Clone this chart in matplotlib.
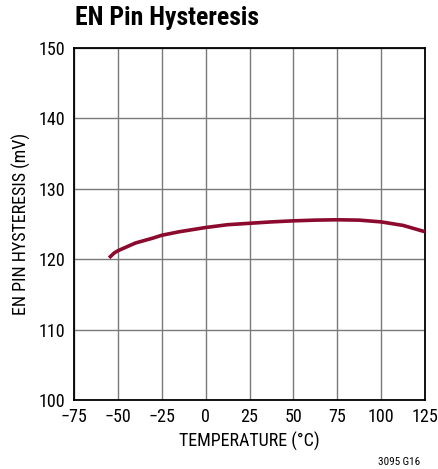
import matplotlib
matplotlib.use("Agg")
import matplotlib.pyplot as plt
from matplotlib import font_manager

# valores
temperatura = [-55, -52, -50, -40, -30, -25, -15, 0, 12.5, 25, 37.5, 50, 62.5, 75, 87.5, 100, 112.5, 125]
histerese = [120.2, 120.9, 121.2, 122.3, 123.0, 123.4, 123.9, 124.5, 124.9, 125.1, 125.3, 125.45, 125.55, 125.6, 125.55, 125.3, 124.8, 123.9]

xticks = [-75, -50, -25, 0, 25, 50, 75, 100, 125]
yticks = [100, 110, 120, 130, 140, 150]

# fonte condensada, parecida com Helvetica Condensed
nomes = {f.name for f in font_manager.fontManager.ttflist}
fonte = "DejaVu Sans"
for candidata in ["Roboto Condensed", "Archivo Narrow", "Liberation Sans Narrow", "Barlow Semi Condensed"]:
    if candidata in nomes:
        fonte = candidata
        break
plt.rcParams["font.family"] = [fonte, "DejaVu Sans"]
plt.rcParams["font.stretch"] = "condensed"

fig = plt.figure(figsize=(4.38, 4.69), dpi=100)
ax = fig.add_axes([74 / 438, 1 - 400 / 469, (425 - 74) / 438, (400 - 48) / 469])

ax.plot(temperatura, histerese, color="#8b0a2e", linewidth=2.6, solid_capstyle="butt", zorder=3)

ax.set_xlim(-75, 125)
ax.set_ylim(100, 150)
ax.set_xticks(xticks)
ax.set_yticks(yticks)
ax.set_xticklabels(["\u221275", "\u221250", "\u221225", "0", "25", "50", "75", "100", "125"])
ax.grid(True, color="#7a7a7a", linewidth=1.0)
ax.tick_params(length=0, labelsize=13, pad=6)
for s in ax.spines.values():
    s.set_linewidth(1.3)
    s.set_color("black")

ax.set_xlabel("TEMPERATURE (\u00b0C)", fontsize=13, labelpad=4)
ax.set_ylabel("EN PIN HYSTERESIS (mV)", fontsize=13, labelpad=6)

fig.text(75 / 438, 1 - 18 / 469, "EN Pin Hysteresis", fontsize=18.5, fontweight="bold",
         ha="left", va="center")
fig.text(420 / 438, 1 - 462 / 469, "3095 G16", fontsize=8, ha="right", va="center")

fig.savefig("out.png", dpi=100)
